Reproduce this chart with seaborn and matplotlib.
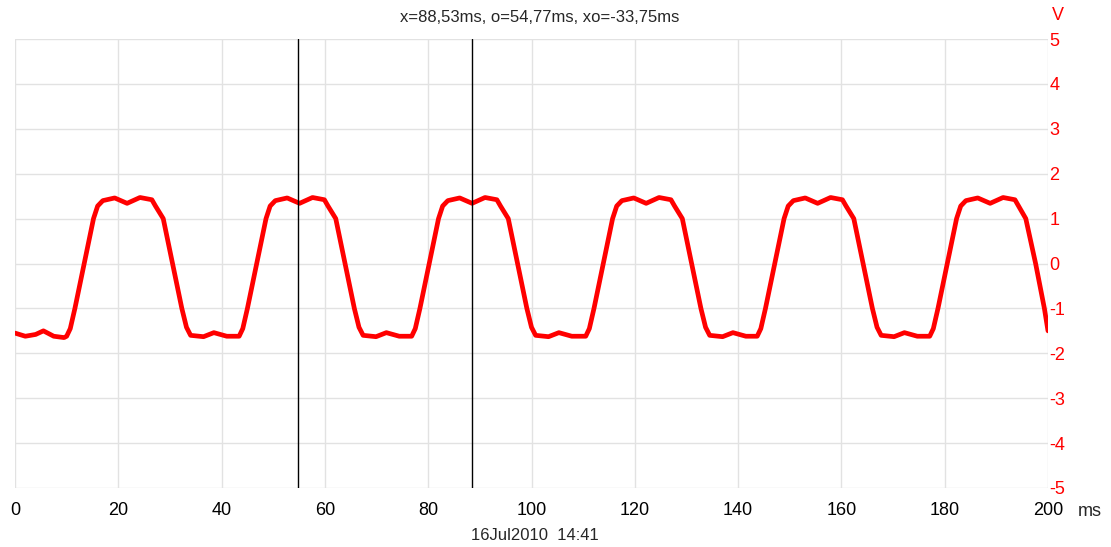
import matplotlib
matplotlib.use("Agg")
import matplotlib.pyplot as plt
import seaborn as sns
import pandas as pd

# trace breakpoints (ms, V)
time_ms = [
    0.0, 2.0, 4.0, 5.5, 7.5, 9.5,
    10.0, 10.7, 11.6, 13.4, 15.2, 16.0, 17.0, 19.3, 21.7, 24.2, 26.5, 27.2, 28.7, 30.5, 32.3, 33.2, 34.0, 36.5, 38.5, 41.0,
    43.4, 44.1, 45.0, 46.8, 48.6, 49.4, 50.4, 52.7, 55.1, 57.6, 59.9, 60.6, 62.1, 63.9, 65.7, 66.6, 67.4, 69.9, 71.9, 74.4,
    76.8, 77.5, 78.4, 80.2, 82.0, 82.8, 83.8, 86.1, 88.5, 91.0, 93.3, 94.0, 95.5, 97.3, 99.1, 100.0, 100.8, 103.3, 105.3, 107.8,
    110.5, 111.2, 112.1, 113.9, 115.7, 116.5, 117.5, 119.8, 122.2, 124.7, 127.0, 127.7, 129.2, 131.0, 132.8, 133.7, 134.5, 137.0, 139.0, 141.5,
    143.7, 144.4, 145.3, 147.1, 148.9, 149.7, 150.7, 153.0, 155.4, 157.9, 160.2, 160.9, 162.4, 164.2, 166.0, 166.9, 167.7, 170.2, 172.2, 174.7,
    177.1, 177.8, 178.7, 180.5, 182.3, 183.1, 184.1, 186.4, 188.8, 191.3, 193.6, 194.3, 195.7, 197.6, 199.3, 200.0,
]
volts = [
    -1.55, -1.62, -1.58, -1.50, -1.62, -1.65,
    -1.62, -1.45, -1.0, 0.0, 1.0, 1.28, 1.40, 1.46, 1.34, 1.47, 1.42, 1.28, 1.0, 0.0, -1.0, -1.42, -1.60, -1.63, -1.54, -1.62,
    -1.62, -1.45, -1.0, 0.0, 1.0, 1.28, 1.40, 1.46, 1.34, 1.47, 1.42, 1.28, 1.0, 0.0, -1.0, -1.42, -1.60, -1.63, -1.54, -1.62,
    -1.62, -1.45, -1.0, 0.0, 1.0, 1.28, 1.40, 1.46, 1.34, 1.47, 1.42, 1.28, 1.0, 0.0, -1.0, -1.42, -1.60, -1.63, -1.54, -1.62,
    -1.62, -1.45, -1.0, 0.0, 1.0, 1.28, 1.40, 1.46, 1.34, 1.47, 1.42, 1.28, 1.0, 0.0, -1.0, -1.42, -1.60, -1.63, -1.54, -1.62,
    -1.62, -1.45, -1.0, 0.0, 1.0, 1.28, 1.40, 1.46, 1.34, 1.47, 1.42, 1.28, 1.0, 0.0, -1.0, -1.42, -1.60, -1.63, -1.54, -1.62,
    -1.62, -1.45, -1.0, 0.0, 1.0, 1.28, 1.40, 1.46, 1.34, 1.47, 1.42, 1.28, 1.0, 0.0, -1.0, -1.50,
]
cursor_x = 88.53
cursor_o = 54.77
x_ticks = [0, 20, 40, 60, 80, 100, 120, 140, 160, 180, 200]
y_ticks = [-5, -4, -3, -2, -1, 0, 1, 2, 3, 4, 5]
title = "x=88,53ms, o=54,77ms, xo=-33,75ms"
stamp = "16Jul2010  14:41"

sns.set_style("whitegrid")
plt.rcParams['font.family'] = ['Liberation Sans', 'DejaVu Sans']
plt.rcParams['axes.unicode_minus'] = False

df = pd.DataFrame({'t': time_ms, 'v': volts})

fig = plt.figure(figsize=(11.11, 5.47), dpi=100)
ax = fig.add_axes([15 / 1111, 1 - 488 / 547, 1033 / 1111, 449 / 547])

sns.lineplot(data=df, x='t', y='v', ax=ax, color='#ff0000', linewidth=3.4,
             sort=False, estimator=None, solid_joinstyle='round')
ax.axvline(cursor_o, color='black', linewidth=1)
ax.axvline(cursor_x, color='black', linewidth=1)

ax.set_xlim(0, 200)
ax.set_ylim(-5, 5)
ax.set_xticks(x_ticks)
ax.set_yticks(y_ticks)
ax.grid(True, color='#e2e2e2', linewidth=1)
for s in ax.spines.values():
    s.set_visible(False)

ax.yaxis.tick_right()
ax.tick_params(axis='y', colors='#ff0000', labelsize=13, length=0, pad=1)
ax.tick_params(axis='x', colors='black', labelsize=13, length=0, pad=10)
ax.set_xlabel('')
ax.set_ylabel('')

fig.text(1090 / 1111, 1 - 512 / 547, 'ms', fontsize=13, ha='center', va='center')
fig.text(1058 / 1111, 1 - 16 / 547, 'V', fontsize=13, color='#ff0000', ha='center', va='center')
fig.text(540 / 1111, 1 - 17 / 547, title, fontsize=12, ha='center', va='center')
fig.text(535 / 1111, 1 - 535 / 547, stamp, fontsize=12, ha='center', va='center')

fig.savefig('out.png', dpi=100)
